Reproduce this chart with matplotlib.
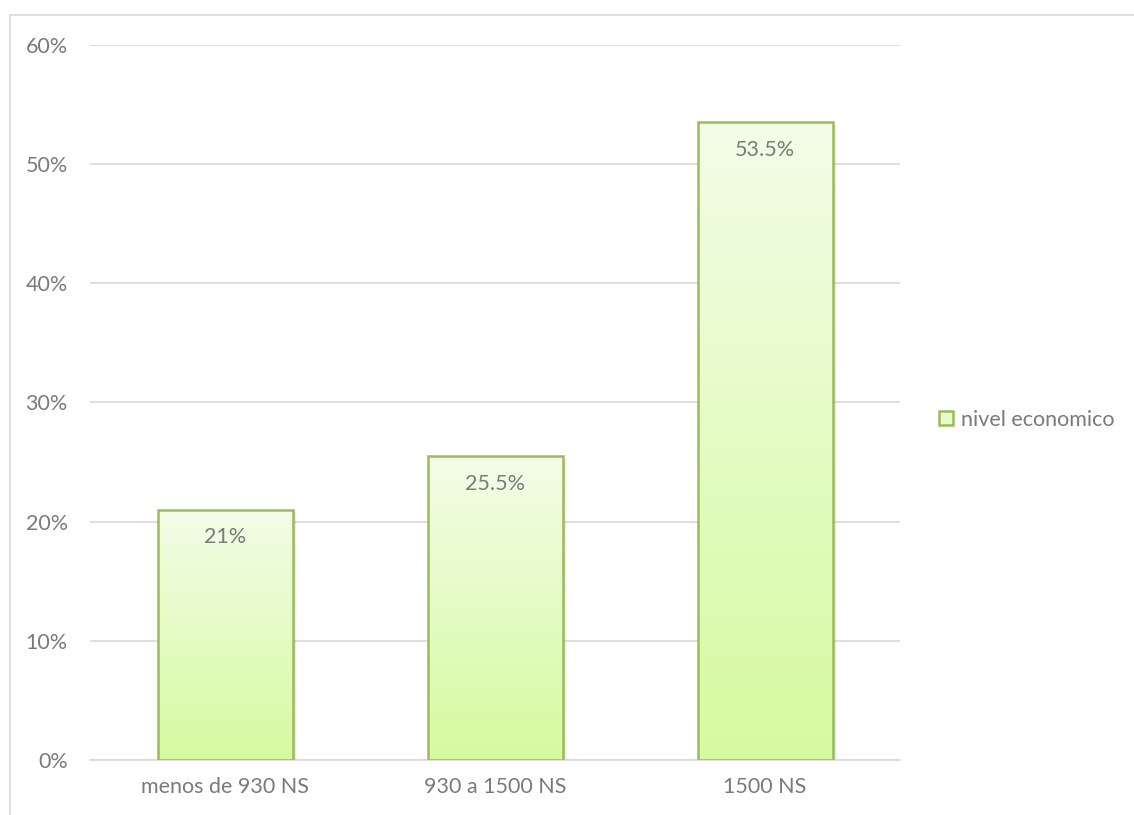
import numpy as np
import matplotlib.pyplot as plt
from matplotlib.patches import Rectangle
from matplotlib.lines import Line2D

categories = ['menos de 930 NS', '930 a 1500 NS', '1500 NS']
values = [21, 25.5, 53.5]
value_labels = ['21%', '25.5%', '53.5%']
y_ticks = [0, 10, 20, 30, 40, 50, 60]
series_name = 'nivel economico'

plt.rcParams['font.family'] = ['Lato', 'DejaVu Sans']
text_gray = '#7a7a7a'
edge_green = '#9bbb59'
top_rgb = np.array([243, 253, 232]) / 255
bot_rgb = np.array([214, 250, 160]) / 255
fs = 15.5

fig = plt.figure(figsize=(11.34, 8.15), dpi=100)
# chart frame (partly cut off at right/bottom like the source)
fig.add_artist(Rectangle((10 / 1134, -0.1), 1.2, 0.1 + (815 - 15) / 815,
                         transform=fig.transFigure, fill=False,
                         edgecolor='#d9d9d9', lw=1.2))

ax = fig.add_axes([90 / 1134, 55 / 815, 810 / 1134, 715 / 815])

for s in ['top', 'right', 'left']:
    ax.spines[s].set_visible(False)
ax.spines['bottom'].set_color('#d9d9d9')
ax.spines['bottom'].set_linewidth(1.2)
ax.set_yticks(y_ticks)
ax.set_yticklabels([f'{t}%' for t in y_ticks])
ax.yaxis.grid(True, color='#d9d9d9', lw=1.2)
ax.set_axisbelow(True)
ax.tick_params(length=0, labelsize=fs, labelcolor=text_gray)
ax.tick_params(axis='y', pad=16)
ax.tick_params(axis='x', pad=12)
ax.set_xticks(range(len(categories)))
ax.set_xticklabels(categories)

# vertical gradient image used to fill bars
grad = np.linspace(0, 1, 256)[:, None, None]
img = bot_rgb + (top_rgb - bot_rgb) * grad

width = 0.5
for i, v in enumerate(values):
    x0 = i - width / 2
    # soft shadow
    ax.add_patch(Rectangle((x0 + 0.012, 0), width, v - 0.2, facecolor='#000000',
                           alpha=0.08, edgecolor='none', zorder=2))
    im = ax.imshow(img, extent=[x0, x0 + width, 0, v], origin='lower',
                   aspect='auto', zorder=3)
    rect = Rectangle((x0, 0), width, v, facecolor='none', edgecolor=edge_green,
                     lw=1.8, zorder=4)
    ax.add_patch(rect)
    im.set_clip_path(rect)
    ax.text(i, v - 2.3, value_labels[i], ha='center', va='center',
            fontsize=fs, color=text_gray, zorder=5)

ax.set_xlim(-0.5, len(categories) - 0.5)
ax.set_ylim(0, 60)

handle = Line2D([], [], marker='s', ls='none', markersize=10,
                markerfacecolor='#e6fbc8', markeredgecolor=edge_green,
                markeredgewidth=1.8)
fig.legend([handle], [series_name], loc='center left',
           bbox_to_anchor=(937 / 1134, 1 - 420 / 815), frameon=False,
           fontsize=fs, labelcolor=text_gray, handlelength=0.8,
           handletextpad=0.3, borderaxespad=0, borderpad=0)

fig.savefig('out.png', dpi=100)
